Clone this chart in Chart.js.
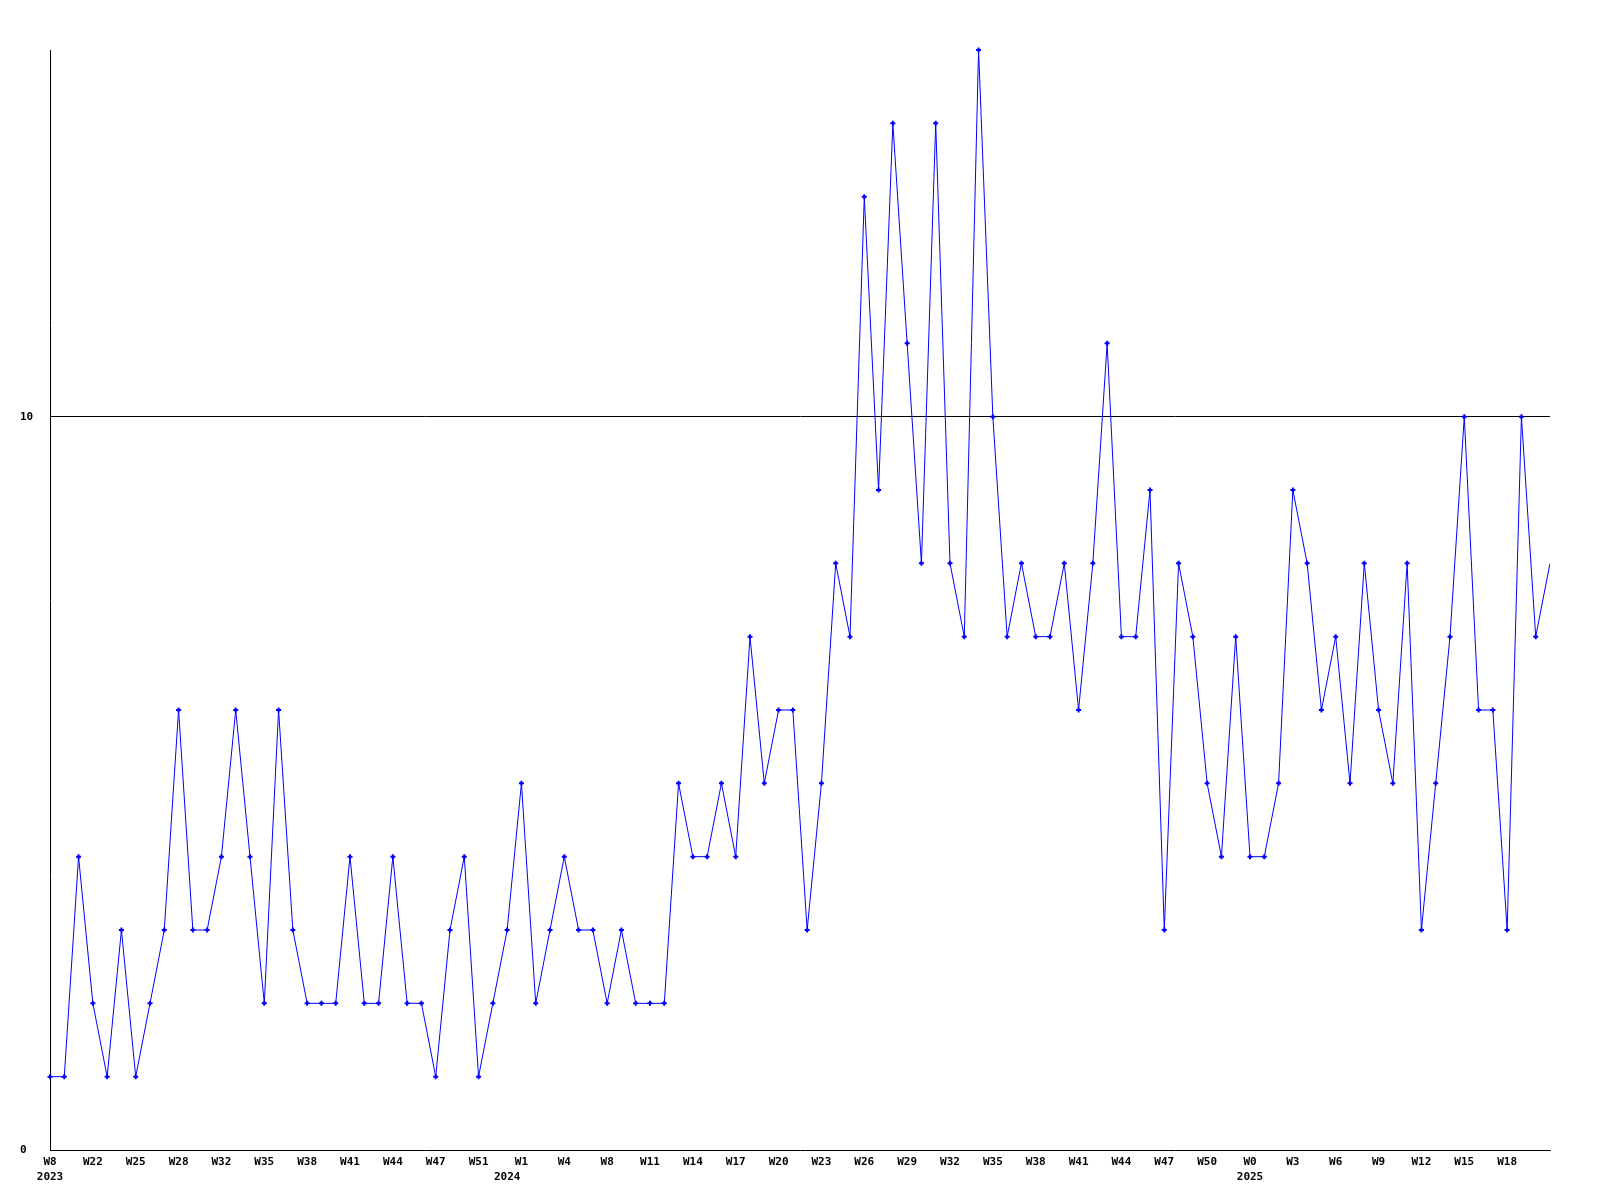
<!DOCTYPE html>
<html>
<head>
<meta charset="utf-8">
<script src="https://cdn.jsdelivr.net/npm/chart.js@4.4.1/dist/chart.umd.min.js"></script>
<style>
  html, body { margin: 0; padding: 0; background: #fff; }
  #chart { display: block; }
</style>
</head>
<body>
<canvas id="chart" width="1600" height="1200"></canvas>
<script>
// weekly counts, one per point
const values = [
  1, 1, 4, 2, 1, 3, 1, 2, 3, 6,
  3, 3, 4, 6, 4, 2, 6, 3, 2, 2,
  2, 4, 2, 2, 4, 2, 2, 1, 3, 4,
  1, 2, 3, 5, 2, 3, 4, 3, 3, 2,
  3, 2, 2, 2, 5, 4, 4, 5, 4, 7,
  5, 6, 6, 3, 5, 8, 7, 13, 9, 14,
  11, 8, 14, 8, 7, 15, 10, 7, 8, 7,
  7, 8, 6, 8, 11, 7, 7, 9, 3, 8,
  7, 5, 4, 7, 4, 4, 5, 9, 8, 6,
  7, 5, 8, 6, 5, 8, 3, 5, 7, 10,
  6, 6, 3, 10, 7, 8,
];

// a week label under every third point
const weekLabels = [
  "W8", "W22", "W25", "W28", "W32", "W35", "W38", "W41", "W44", "W47",
  "W51", "W1", "W4", "W8", "W11", "W14", "W17", "W20", "W23", "W26",
  "W29", "W32", "W35", "W38", "W41", "W44", "W47", "W50", "W0", "W3",
  "W6", "W9", "W12", "W15", "W18",
];
// year names and the point each one sits under
const yearNames = ["2023", "2024", "2025"];
const yearPoints = [0, 32, 84];

const yTicks = [0, 10];
const yMax = 15;

const categories = values.map((v, i) => String(i));
const labelFont = { family: "'DejaVu Sans Mono', monospace", size: 11, weight: "bold", lineHeight: 1.35 };

function tickText(i) {
  const week = i % 3 === 0 && weekLabels[i / 3] !== undefined ? weekLabels[i / 3] : "";
  const y = yearPoints.indexOf(i);
  if (y >= 0) return [week, yearNames[y]];
  return week;
}

const ctx = document.getElementById("chart").getContext("2d");
new Chart(ctx, {
  type: "line",
  data: {
    labels: categories,
    datasets: [
      {
        data: values,
        borderColor: "#0000ff",
        backgroundColor: "#0000ff",
        borderWidth: 1,
        tension: 0,
        clip: { left: 5, top: 5, right: 0, bottom: 5 },
        pointStyle: "cross",
        pointRadius: (c) => (c.dataIndex === values.length - 1 ? 0 : 2.5),
        pointBorderWidth: 2,
        pointBorderColor: "#0000ff",
      },
    ],
  },
  options: {
    responsive: false,
    devicePixelRatio: 1,
    animation: false,
    layout: { padding: { left: 20, top: 50, right: 50, bottom: 0 } },
    plugins: {
      legend: { display: false },
      tooltip: { enabled: false },
    },
    scales: {
      x: {
        type: "category",
        offset: false,
        grid: { display: false, drawTicks: false },
        border: { display: true, color: "#000", width: 1 },
        ticks: {
          autoSkip: false,
          maxRotation: 0,
          minRotation: 0,
          padding: 5,
          color: "#000",
          font: labelFont,
          callback: function (val, i) {
            return tickText(i);
          },
        },
        afterFit: function (scale) {
          scale.height = 50;
        },
      },
      y: {
        min: 0,
        max: yMax,
        afterBuildTicks: function (scale) {
          scale.ticks = yTicks.map((v) => ({ value: v }));
        },
        grid: {
          drawTicks: false,
          color: (c) => (c.tick && c.tick.value === 10 ? "#000" : "rgba(0,0,0,0)"),
          lineWidth: 1,
        },
        border: { display: true, color: "#000", width: 1 },
        ticks: {
          crossAlign: "far",
          padding: 0,
          color: "#000",
          font: labelFont,
        },
        afterFit: function (scale) {
          scale.width = 30;
        },
      },
    },
  },
});
</script>
</body>
</html>
